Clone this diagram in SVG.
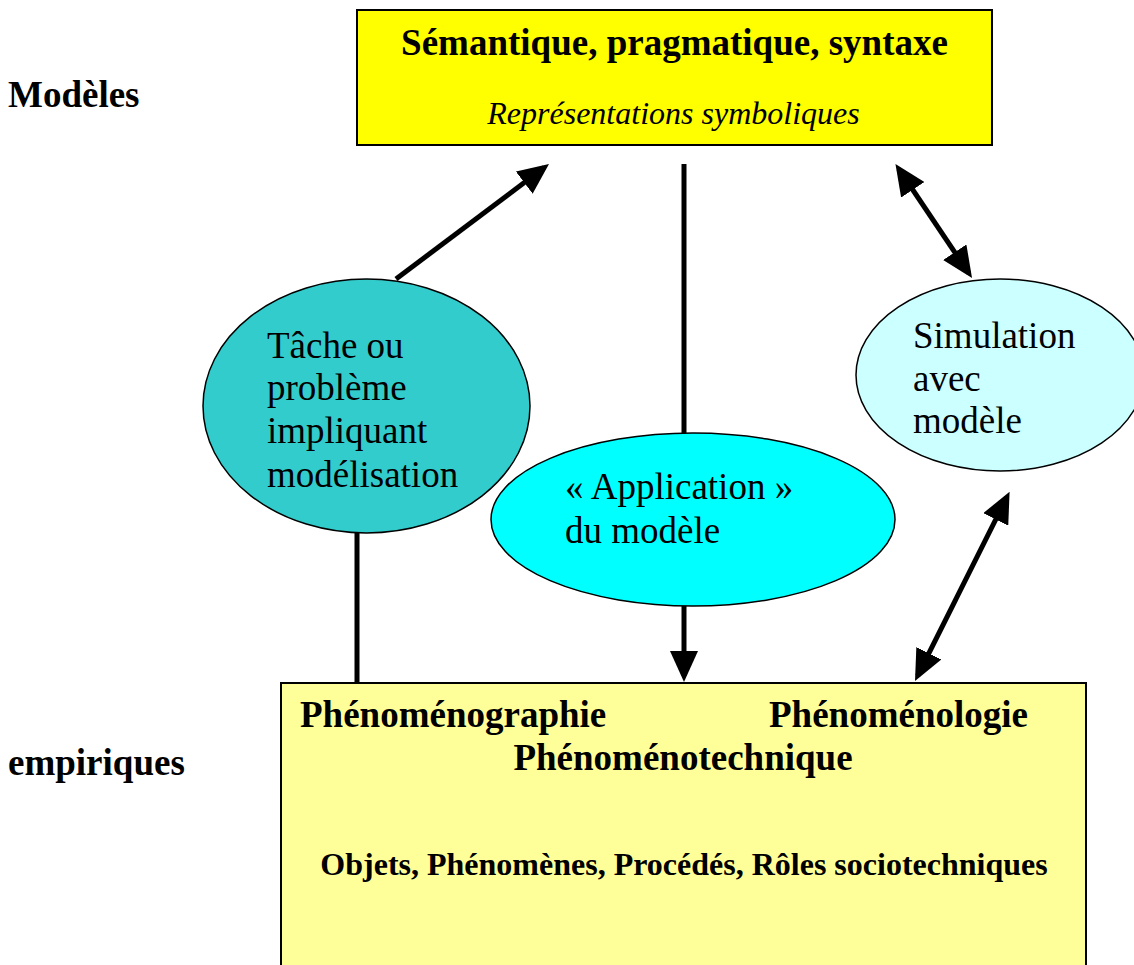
<svg xmlns="http://www.w3.org/2000/svg" width="1134" height="965" viewBox="0 0 1134 965">
<style>
  .b { font-family: "Liberation Serif", "Times New Roman", serif; font-weight: bold; fill: #000; }
  .r { font-family: "Liberation Serif", "Times New Roman", serif; fill: #000; font-size: 37px; }
  .i { font-family: "Liberation Serif", "Times New Roman", serif; font-style: italic; fill: #000; font-size: 32px; }
  .box { stroke: #000; stroke-width: 2; }
  .ell { stroke: #000; stroke-width: 1.5; }
  .con { stroke: #000; stroke-width: 5; fill: none; }
</style>
<defs>
  <marker id="ah" viewBox="0 0 31 28" markerUnits="userSpaceOnUse" markerWidth="31" markerHeight="28" refX="25" refY="14" orient="auto-start-reverse">
    <path d="M0,0 L31,14 L0,28 z" fill="#000"/>
  </marker>
</defs>
<rect width="1134" height="965" fill="#fff"/>

<g id="label-modeles">
  <text class="b" x="8" y="107" font-size="37">Modèles</text>
</g>
<g id="label-empiriques">
  <text class="b" x="8" y="775" font-size="37">empiriques</text>
</g>

<g id="top-box">
  <rect class="box" x="357" y="10" width="635" height="135" fill="#FFFF00"/>
  <text class="b" x="674.5" y="55" font-size="37" text-anchor="middle">Sémantique, pragmatique, syntaxe</text>
  <text class="i" x="673.5" y="124" text-anchor="middle">Représentations symboliques</text>
</g>

<g id="bottom-box">
  <rect class="box" x="281" y="683" width="805" height="300" fill="#FFFF99"/>
  <text class="b" x="300" y="727" font-size="37">Phénoménographie</text>
  <text class="b" x="769" y="727" font-size="37">Phénoménologie</text>
  <text class="b" x="683" y="770" font-size="37" text-anchor="middle">Phénoménotechnique</text>
  <text class="b" x="684" y="875" font-size="32" text-anchor="middle">Objets, Phénomènes, Procédés, Rôles sociotechniques</text>
</g>

<g id="tache">
  <ellipse class="ell" cx="366.5" cy="406" rx="163.5" ry="127" fill="#33CCCC"/>
  <text class="r" x="267" y="358">Tâche ou</text>
  <text class="r" x="267" y="400">problème</text>
  <text class="r" x="267" y="443">impliquant</text>
  <text class="r" x="267" y="487">modélisation</text>
</g>

<g id="application">
  <ellipse class="ell" cx="693" cy="519.5" rx="202" ry="86.5" fill="#00FFFF"/>
  <text class="r" x="565" y="499">« Application »</text>
  <text class="r" x="565" y="543">du modèle</text>
</g>

<g id="simulation">
  <ellipse class="ell" cx="1000" cy="375" rx="144" ry="96" fill="#CCFFFF"/>
  <text class="r" x="913" y="348">Simulation</text>
  <text class="r" x="913" y="391">avec</text>
  <text class="r" x="913" y="433">modèle</text>
</g>

<g id="connectors">
  <line class="con" x1="396" y1="279" x2="544.2" y2="167.6" marker-end="url(#ah)"/>
  <line class="con" x1="684" y1="164" x2="684" y2="433"/>
  <line class="con" x1="684" y1="606" x2="684" y2="676" marker-end="url(#ah)"/>
  <line class="con" x1="898.8" y1="169" x2="968.7" y2="273" marker-start="url(#ah)" marker-end="url(#ah)"/>
  <line class="con" x1="1006.9" y1="497.1" x2="917.7" y2="675.6" marker-start="url(#ah)" marker-end="url(#ah)"/>
  <line class="con" x1="357" y1="533" x2="357" y2="683"/>
</g>
</svg>
